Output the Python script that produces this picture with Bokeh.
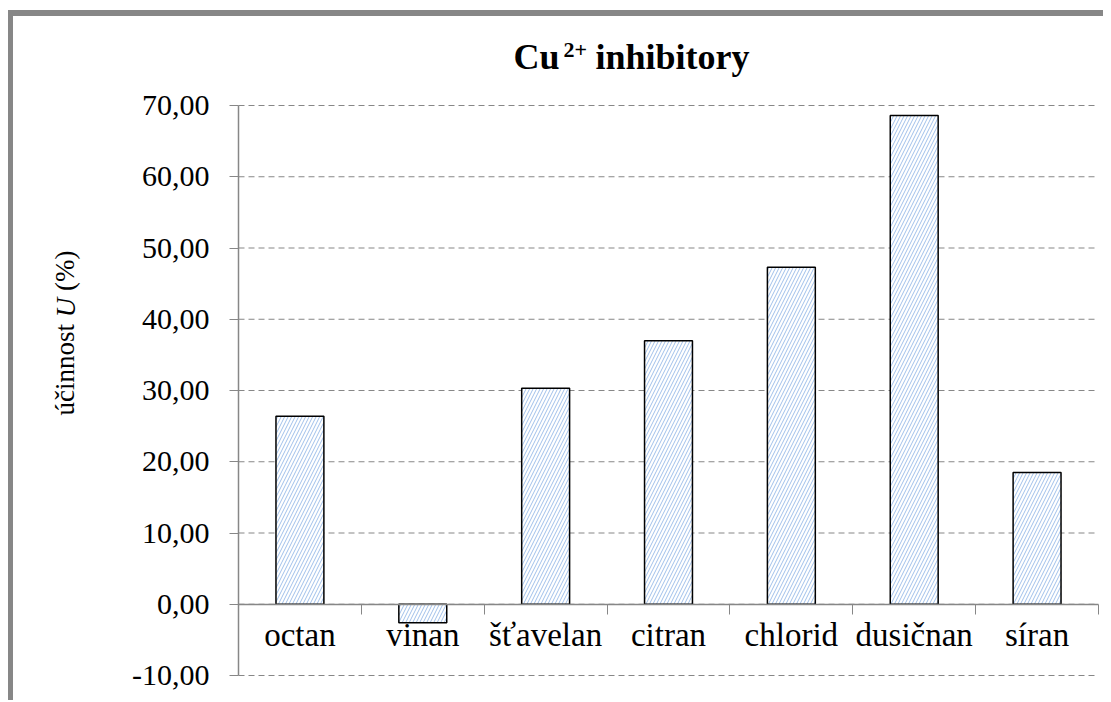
import math
from bokeh.plotting import figure
from bokeh.models import Range1d, LinearAxis, FixedTicker
from bokeh.embed import file_html
from bokeh.resources import INLINE

categories = ["octan", "vinan", "šťavelan", "citran", "chlorid", "dusičnan", "síran"]
values = [26.4, -2.6, 30.3, 37.0, 47.3, 68.6, 18.5]
y_ticks = [-10, 0, 10, 20, 30, 40, 50, 60, 70]
y_tick_labels = ["-10,00", "0,00", "10,00", "20,00", "30,00", "40,00", "50,00", "60,00", "70,00"]
title_parts = ["Cu", "2+", "inhibitory"]
ylabel_parts = ["účinnost", "U", "(%)"]

GRAY = "#878787"
FONT = "Liberation Serif"
W, H = 1095, 690

# layout (canvas pixels; canvas origin at page (13,16))
PL, PR, PT, PB = 225, 1085, 89, 659   # plot-area edges
n = len(categories)
ymin, ymax = y_ticks[0], y_ticks[-1]
kx = (PR - PL) / n
ky = (PB - PT) / (ymax - ymin)
x0 = -PL / kx
y1 = ymax + PT / ky
x_range = Range1d(x0, n + (W - PR) / kx)
y_range = Range1d(ymin - (H - PB) / ky, y1)

xs = [i + 0.5 for i in range(n)]

p = figure(width=W, height=H, x_range=x_range, y_range=y_range,
           output_backend="svg", toolbar_location=None,
           x_axis_location=None, y_axis_location=None,
           min_border_left=0, min_border_right=0, min_border_top=0, min_border_bottom=0)
p.outline_line_color = None
p.background_fill_color = "white"
p.border_fill_color = "white"
p.xgrid.visible = False
p.ygrid.visible = False
p.styles = {"border-left": f"5px solid {GRAY}", "border-top": f"6px solid {GRAY}",
            "margin-top": "10px", "margin-left": "8px"}

# dashed gridlines across the plot area
p.segment(x0=[0] * len(y_ticks), x1=[n - 0.03] * len(y_ticks), y0=y_ticks, y1=y_ticks,
          line_color=GRAY, line_dash="6 4", line_width=1)

# bars
p.vbar(x=xs, top=values, bottom=0, width=0.39, fill_color="white",
       hatch_pattern="/", hatch_color="#a0c0ea", hatch_scale=7, hatch_weight=1,
       line_color="black", line_width=1.5)

# y axis at x=0
ya = LinearAxis(ticker=FixedTicker(ticks=y_ticks), fixed_location=0, bounds=(ymin, ymax))
ya.major_label_overrides = {t: s for t, s in zip(y_ticks, y_tick_labels)}
ya.major_label_text_font = FONT
ya.major_label_text_font_size = "30px"
ya.major_label_text_color = "black"
ya.major_label_standoff = 20
ya.major_tick_out = 9
ya.major_tick_in = 0
ya.minor_tick_out = 0
ya.minor_tick_in = 0
ya.axis_line_color = GRAY
ya.major_tick_line_color = GRAY
ya.axis_line_width = 1.5
p.add_layout(ya, "left")

# x axis at y=0: tick marks between categories
xa_ticks = LinearAxis(ticker=FixedTicker(ticks=list(range(n + 1))), fixed_location=0,
                      bounds=(0, n),
                      major_tick_out=10, major_tick_in=0, minor_tick_out=0, minor_tick_in=0,
                      major_label_text_font_size="0px", axis_line_color=GRAY,
                      major_tick_line_color=GRAY, axis_line_width=1.5)
xa_ticks.major_label_overrides = {i: "" for i in range(n + 1)}
p.add_layout(xa_ticks, "below")

xa_labels = LinearAxis(ticker=FixedTicker(ticks=xs), fixed_location=0, bounds=(0, n),
                       major_tick_out=0, major_tick_in=0, minor_tick_out=0, minor_tick_in=0,
                       axis_line_color=None, major_tick_line_color=None,
                       major_label_text_font=FONT, major_label_text_font_size="33px",
                       major_label_text_color="black", major_label_standoff=13)
xa_labels.major_label_overrides = {x: c for x, c in zip(xs, categories)}
p.add_layout(xa_labels, "below")

# page pixel -> data coordinate helpers for text placement
def dx(page_x):
    return x0 + (page_x - 13) / kx

def dy(page_y):
    return y1 - (page_y - 16) / ky

def text_axis(side, centers, texts, loc, size, style, orientation="horizontal"):
    ax = LinearAxis(ticker=FixedTicker(ticks=centers), fixed_location=loc,
                    major_tick_out=0, major_tick_in=0, minor_tick_out=0, minor_tick_in=0,
                    axis_line_color=None, major_tick_line_color=None,
                    major_label_standoff=0, major_label_orientation=orientation,
                    major_label_text_font=FONT, major_label_text_font_size=size,
                    major_label_text_font_style=style, major_label_text_color="black")
    ax.major_label_overrides = {c: t for c, t in zip(centers, texts)}
    p.add_layout(ax, side)

# title: piece centres (page px) from Liberation Serif Bold advance widths
big, small = 36, 22
c_cu = 513 + 1.278 * big / 2
c_sup = 563 + 1.07 * small / 2
c_inh = 595 + 4.279 * big / 2
text_axis("above", [dx(c_cu), dx(c_inh)], [title_parts[0], title_parts[2]], dy(76), f"{big}px", "bold")
text_axis("above", [dx(c_sup)], [title_parts[1]], dy(56), f"{small}px", "bold")

# y axis label pieces (rotated, reading bottom to top)
fs = 27
start = 415
c0 = start - 3.389 * fs / 2
s1 = start - (3.389 + 0.25) * fs
c1 = s1 - 0.722 * fs / 2
s2 = s1 - (0.722 + 0.25) * fs
c2 = s2 - 1.499 * fs / 2
text_axis("left", [dy(c0), dy(c2)], [ylabel_parts[0], ylabel_parts[2]], dx(80), f"{fs}px",
          "normal", orientation="vertical")
text_axis("left", [dy(c1)], [ylabel_parts[1]], dx(80), f"{fs}px", "italic",
          orientation="vertical")

open("out.html", "w").write(file_html(p, INLINE))
